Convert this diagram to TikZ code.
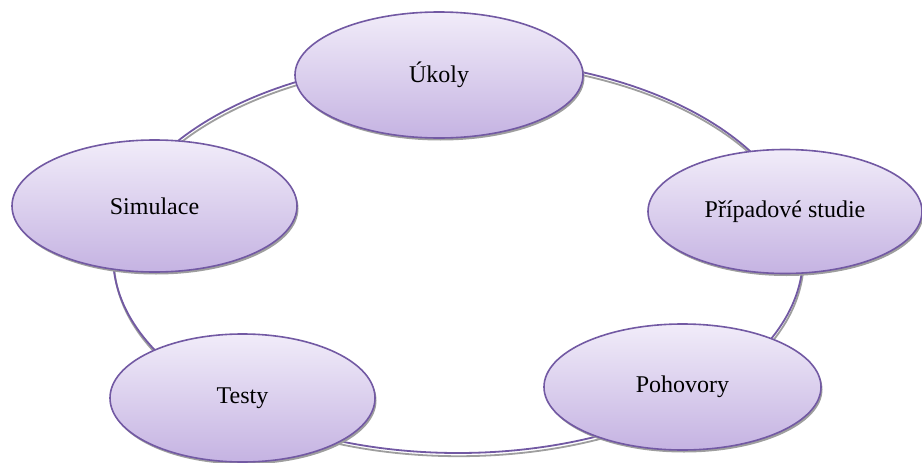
\documentclass[tikz,border=0pt]{standalone}
\usepackage{fontspec}
\setmainfont{Liberation Serif}
\usetikzlibrary{shapes.geometric,shadows}
\definecolor{ringpurple}{HTML}{7259A3}
\definecolor{ringgray}{HTML}{9E9E9E}
\definecolor{filltop}{HTML}{F1ECF9}
\definecolor{fillbot}{HTML}{C5B3E2}
\tikzset{
  bubble/.style={ellipse, draw=ringpurple, line width=1.6pt, inner sep=0pt,
    top color=filltop, bottom color=fillbot,
    drop shadow={shadow xshift=1.5pt, shadow yshift=-2.5pt, fill=ringgray, opacity=1},
    font=\fontsize{24}{28}\selectfont},
  ringline/.style={draw=ringpurple, line width=1.8pt},
  ringshadow/.style={draw=ringgray, line width=1.8pt}
}
\begin{document}
\begin{tikzpicture}[x=1pt,y=-1pt]
\useasboundingbox (0,0) rectangle (922,463);
\coordinate (c) at (458,256);
% ring
\draw[ringshadow] ([shift={(0.8,3.2)}]c) ellipse [x radius=345, y radius=197];
\draw[ringline] (c) ellipse [x radius=345, y radius=197];
% nodes
\node[bubble, minimum width=288, minimum height=126] (ukoly) at (439,75) {\raisebox{-3pt}{Úkoly}};
\node[bubble, minimum width=274, minimum height=124] (pripad) at (785,211.5) {Případové studie};
\node[bubble, minimum width=277, minimum height=126] (pohov) at (682.5,387) {Pohovory};
\node[bubble, minimum width=265, minimum height=128] (testy) at (242.5,398) {Testy};
\node[bubble, minimum width=285, minimum height=132] (simul) at (154.5,206) {Simulace};
\end{tikzpicture}
\end{document}
